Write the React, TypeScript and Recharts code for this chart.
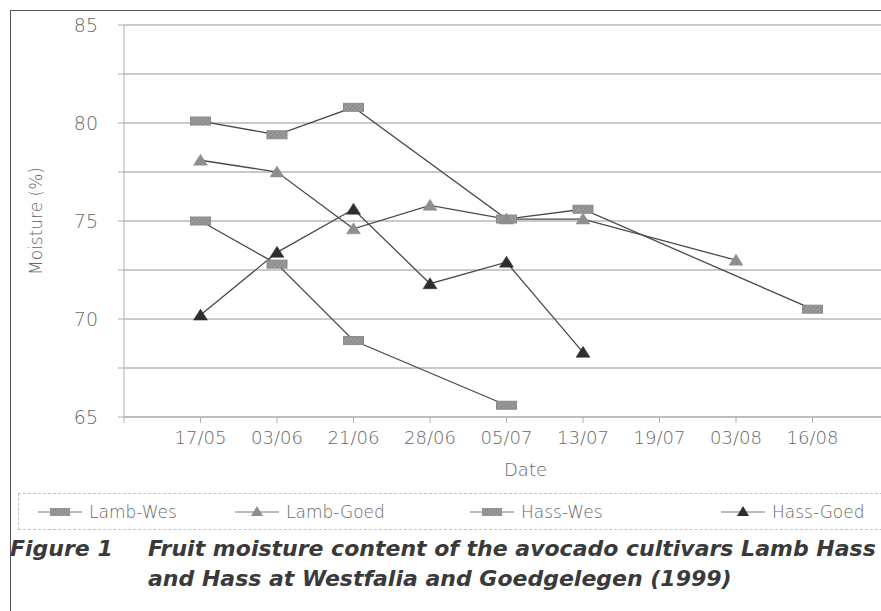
import React from "react";
import { LineChart, Line, XAxis, YAxis, CartesianGrid } from "recharts";

// dates, with one empty slot at each end (the axis sits on tick marks)
const dates = ["", "17/05", "03/06", "21/06", "28/06", "05/07", "13/07", "19/07", "03/08", "16/08", " "];
const lambWes = [null, 80.1, 79.4, 80.8, null, 75.1, 75.6, null, null, 70.5, null];
const lambGoed = [null, 78.1, 77.5, 74.6, 75.8, 75.1, 75.1, null, 73.0, null, null];
const hassWes = [null, 75.0, 72.8, 68.9, null, 65.6, null, null, null, null, null];
const hassGoed = [null, 70.2, 73.4, 75.6, 71.8, 72.9, 68.3, null, null, null, null];
const yTicks = [65, 67.5, 70, 72.5, 75, 77.5, 80, 82.5, 85];

const data = dates.map((d, i) => ({
  date: d,
  lambWes: lambWes[i],
  lambGoed: lambGoed[i],
  hassWes: hassWes[i],
  hassGoed: hassGoed[i],
}));

const FONT = '"DejaVu Sans", sans-serif';
const LINE = "#4a4a4a";
const TEXT = "#666";

const square = (props: any) => {
  const { cx, cy, index } = props;
  if (cx == null || cy == null || props.value == null) return <g key={"s" + index} />;
  return (
    <rect key={"s" + index} x={cx - 10} y={cy - 4} width={20} height={8}
      fill="url(#hatch)" stroke="#8a8a8a" strokeWidth={1} />
  );
};

const triangle = (fill: string) => (props: any) => {
  const { cx, cy, index } = props;
  if (cx == null || cy == null || props.value == null) return <g key={"t" + index} />;
  return (
    <path key={"t" + index} d={`M${cx},${cy - 6} L${cx + 7},${cy + 5} L${cx - 7},${cy + 5} Z`}
      fill={fill} stroke={fill} strokeWidth={0.5} />
  );
};

function LegendMark({ kind }: { kind: string }) {
  return (
    <svg width={44} height={14} style={{ display: "block" }}>
      <line x1={0} y1={7} x2={44} y2={7} stroke="#777" strokeWidth={1} />
      {kind === "sq" && <rect x={12} y={3} width={20} height={8} fill="url(#hatchL)" />}
      {kind === "tri" && <path d="M22,1 L28,11 L16,11 Z" fill="#8e8e8e" />}
      {kind === "dark" && <path d="M22,1 L28,11 L16,11 Z" fill="#2e2e2e" />}
    </svg>
  );
}

export default function App() {
  const legendItems = [
    { label: "Lamb-Wes", kind: "sq", left: 37 },
    { label: "Lamb-Goed", kind: "tri", left: 234 },
    { label: "Hass-Wes", kind: "sq", left: 469 },
    { label: "Hass-Goed", kind: "dark", left: 720 },
  ];

  return (
    <div style={{ position: "absolute", left: 0, top: 0, width: 881, height: 611, overflow: "hidden", background: "#fff", fontFamily: FONT }}>
      <svg width={0} height={0} style={{ position: "absolute" }}>
        <defs>
          <pattern id="hatchL" width={3} height={3} patternUnits="userSpaceOnUse" patternTransform="rotate(45)">
            <rect width={3} height={3} fill="#9a9a9a" />
            <line x1={0} y1={0} x2={0} y2={3} stroke="#7a7a7a" strokeWidth={1.2} />
          </pattern>
        </defs>
      </svg>

      {/* outer frame */}
      <div style={{ position: "absolute", left: 10, top: 10, width: 900, height: 640, borderLeft: "1.5px solid #555", borderTop: "1.5px solid #555" }} />

      <div style={{ position: "absolute", left: 0, top: 0 }}>
        <LineChart width={900} height={480} data={data} margin={{ top: 25, right: 11, left: 0, bottom: 0 }}>
          <defs>
            <pattern id="hatch" width={3} height={3} patternUnits="userSpaceOnUse" patternTransform="rotate(45)">
              <rect width={3} height={3} fill="#9a9a9a" />
              <line x1={0} y1={0} x2={0} y2={3} stroke="#7a7a7a" strokeWidth={1.2} />
            </pattern>
          </defs>
          <CartesianGrid vertical={false} stroke="#b8b8b8" strokeWidth={1.3} />
          <XAxis
            dataKey="date"
            scale="point"
            padding={{ left: 0, right: 0 }}
            interval={0}
            height={63}
            stroke="#b0b0b0"
            tickSize={6}
            tickMargin={8}
            tick={{ fill: TEXT, fontSize: 18, fontFamily: FONT, fontWeight: 300 }}
            label={{ value: "Date", position: "insideBottom", offset: 0, dx: 19, dy: -4, fill: TEXT, fontSize: 18, fontFamily: FONT, fontWeight: 300 }}
          />
          <YAxis
            domain={[65, 85]}
            ticks={yTicks}
            interval={0}
            width={124}
            stroke="#b0b0b0"
            tickSize={6}
            tickMargin={20}
            tickFormatter={(v: number) => (v % 5 === 0 ? String(v) : "")}
            tick={{ fill: TEXT, fontSize: 19, fontFamily: FONT, fontWeight: 300 }}
            label={{ value: "Moisture (%)", angle: -90, position: "insideLeft", offset: 36, fill: TEXT, fontSize: 17, fontFamily: FONT, fontWeight: 300, style: { textAnchor: "middle" } }}
          />
          <Line dataKey="lambWes" stroke={LINE} strokeWidth={1.3} connectNulls dot={square} activeDot={false} isAnimationActive={false} />
          <Line dataKey="lambGoed" stroke={LINE} strokeWidth={1.3} connectNulls dot={triangle("#8e8e8e")} activeDot={false} isAnimationActive={false} />
          <Line dataKey="hassWes" stroke={LINE} strokeWidth={1.3} connectNulls dot={square} activeDot={false} isAnimationActive={false} />
          <Line dataKey="hassGoed" stroke={LINE} strokeWidth={1.3} connectNulls dot={triangle("#2e2e2e")} activeDot={false} isAnimationActive={false} />
        </LineChart>
      </div>

      {/* legend box */}
      <div style={{ position: "absolute", left: 18, top: 493, width: 900, height: 37, border: "1px dashed #c4c4c4", boxSizing: "border-box" }}>
        {legendItems.map((it) => (
          <div key={it.label} style={{ position: "absolute", left: it.left - 18, top: 0, height: 35, display: "flex", alignItems: "center", gap: 7, fontSize: 17, fontWeight: 300, color: TEXT, whiteSpace: "nowrap" }}>
            <LegendMark kind={it.kind} />
            <span>{it.label}</span>
          </div>
        ))}
      </div>

      {/* caption */}
      <div style={{ position: "absolute", left: 10, top: 534, fontSize: 22, fontWeight: "bold", fontStyle: "italic", color: "#3a3a3a", lineHeight: "30px", whiteSpace: "nowrap" }}>
        <div>
          <span style={{ display: "inline-block", width: 138 }}>Figure 1</span>
          Fruit moisture content of the avocado cultivars Lamb Hass
        </div>
        <div style={{ paddingLeft: 138 }}>and Hass at Westfalia and Goedgelegen (1999)</div>
      </div>
    </div>
  );
}
